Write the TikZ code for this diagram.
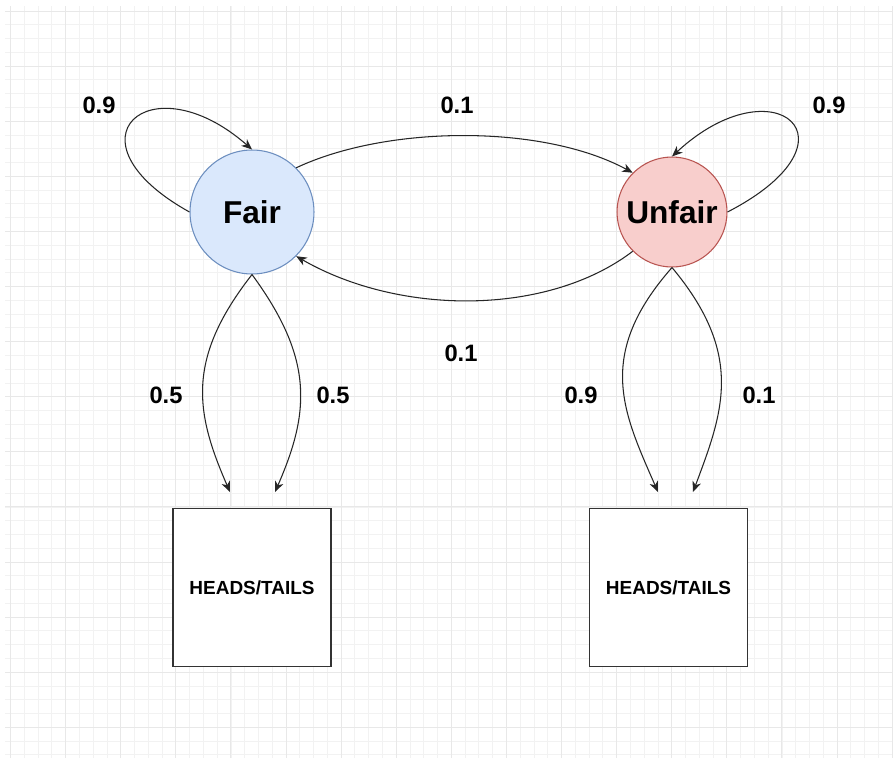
\documentclass[tikz,border=0pt]{standalone}
\usepackage{fontspec}
\setmainfont{Liberation Sans}
\usetikzlibrary{arrows.meta}
\definecolor{minorgrid}{HTML}{F2F2F2}
\definecolor{majorgrid}{HTML}{E8E8E8}
\definecolor{fairfill}{HTML}{DAE8FC}
\definecolor{fairdraw}{HTML}{6C8EBF}
\definecolor{unfairfill}{HTML}{F8CECC}
\definecolor{unfairdraw}{HTML}{B85450}
\tikzset{
  state/.style={circle, inner sep=0pt, line width=0.6pt, font=\fontsize{18}{20}\selectfont\bfseries},
  outbox/.style={rectangle, draw=black!80, fill=white, line width=0.8pt, minimum size=3.16cm, inner sep=0pt, font=\fontsize{10.8}{12}\selectfont\bfseries},
  prob/.style={inner sep=0pt, font=\fontsize{13.5}{15}\selectfont\bfseries},
  link/.style={line width=0.6pt, draw=black!85, -{Stealth[length=6pt,width=5pt,inset=1.8pt]}},
}
\begin{document}
\begin{tikzpicture}[x=0.02cm, y=-0.02cm]
\useasboundingbox (0,0) rectangle (893,758);
\fill[white] (0,0) rectangle (893,758);
% grid
\foreach \i in {0,...,64} {
  \draw[minorgrid, line width=0.45pt] ({10.5+13.775*\i},6) -- ({10.5+13.775*\i},758);
}
\foreach \j in {0,...,54} {
  \draw[minorgrid, line width=0.45pt] (5,{11+13.775*\j}) -- (893,{11+13.775*\j});
}
\foreach \i in {0,...,16} {
  \draw[majorgrid, line width=0.5pt] ({10.5+55.1*\i},6) -- ({10.5+55.1*\i},758);
}
\foreach \j in {0,...,13} {
  \draw[majorgrid, line width=0.5pt] (5,{11+55.1*\j}) -- (893,{11+55.1*\j});
}
% nodes
\node[state, fill=fairfill, draw=fairdraw, minimum size=2.48cm] (fair) at (252,212) {Fair};
\node[state, fill=unfairfill, draw=unfairdraw, minimum size=2.2cm] (unfair) at (672,212) {Unfair};
\node[outbox] (box1) at (252,587.5) {HEADS/TAILS};
\node[outbox] (box2) at (668.5,587.5) {HEADS/TAILS};
% arrow end points above boxes
\coordinate (f1) at (230,492);
\coordinate (f2) at (275,492);
\coordinate (u1) at (658,492);
\coordinate (u2) at (693,492);
% connectors
\draw[link] (fair.west) .. controls (60,140) and (150,60) .. (fair.north);
\draw[link] (unfair.east) .. controls (867,140) and (774,62) .. (unfair.north);
\draw[link] (fair.45) .. controls (387,125) and (543,124) .. (unfair.135);
\draw[link] (unfair.225) .. controls (548,316) and (400,316) .. (fair.-45);
\draw[link] (fair.south) .. controls (186,359) and (195,412) .. (f1);
\draw[link] (fair.south) .. controls (314,359) and (310,412) .. (f2);
\draw[link] (unfair.south) .. controls (595,355) and (623,412) .. (u1);
\draw[link] (unfair.south) .. controls (745,355) and (723,412) .. (u2);
% labels
\node[prob] (l1) at (99,105) {0.9};
\node[prob] (l2) at (457,105) {0.1};
\node[prob] (l3) at (829,105) {0.9};
\node[prob] (l4) at (461,353) {0.1};
\node[prob] (l5) at (166,395) {0.5};
\node[prob] (l6) at (333,395) {0.5};
\node[prob] (l7) at (581,395) {0.9};
\node[prob] (l8) at (759,395) {0.1};
\end{tikzpicture}
\end{document}
